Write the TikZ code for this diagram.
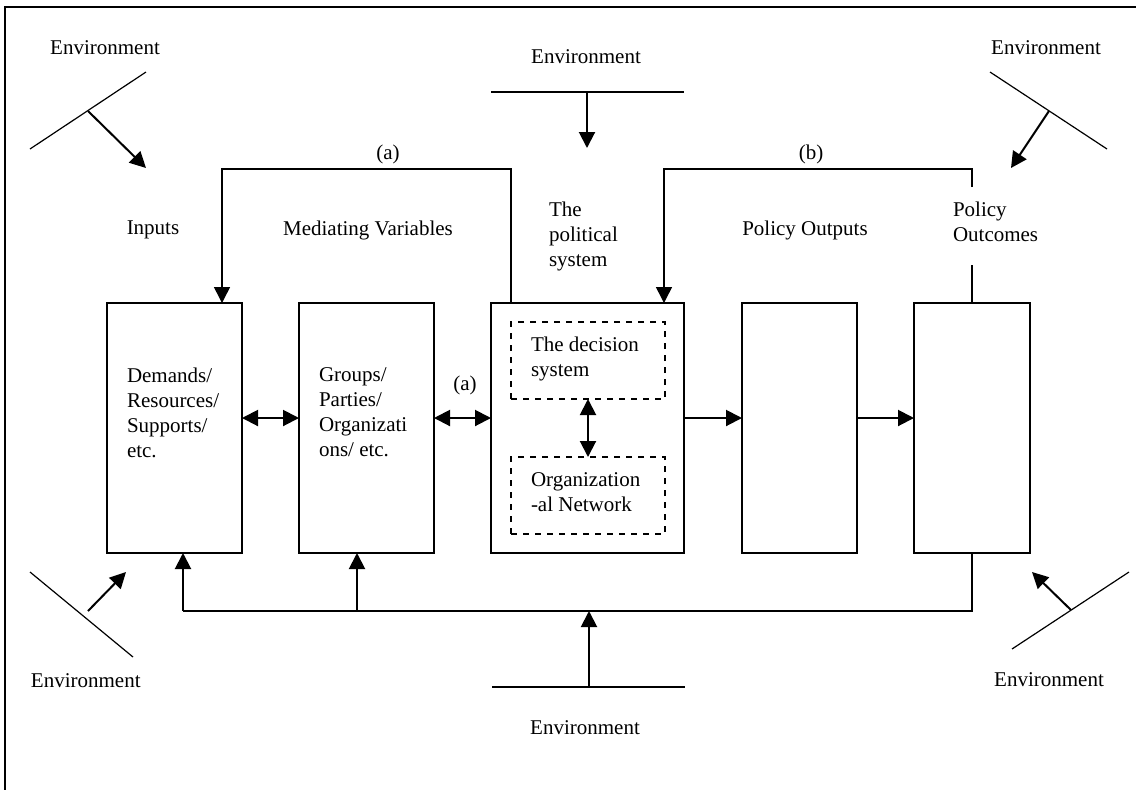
\documentclass[tikz,border=0pt]{standalone}
\usepackage{fontspec}
\setmainfont{Liberation Serif}
\usetikzlibrary{arrows.meta}
\begin{document}
\begin{tikzpicture}[x=0.5pt,y=-0.5pt,
  every node/.style={font=\fontsize{10.5}{12.5}\selectfont, inner sep=0pt, outer sep=0pt},
  lbl/.style={align=left, anchor=north west},
  box/.style={draw, line width=0.75pt, anchor=north west, minimum height=125pt},
  dbox/.style={draw, dashed, line width=0.6pt, anchor=north west, minimum width=77pt, minimum height=38.5pt},
  tip/.tip={Triangle[length=8pt,width=8pt]},
  conn/.style={line width=0.75pt},
  arr/.style={line width=1pt, -tip},
  dbl/.style={line width=1pt, tip-tip},
  envline/.style={line width=0.6pt}]
\useasboundingbox (0,0) rectangle (1136,789);
\clip (0,0) rectangle (1136,789);

% outer frame
\draw[line width=1pt] (5,800) -- (5,7) -- (1140,7);

% main boxes
\node[box, minimum width=67.5pt] (b1) at (107,303) {};
\node[box, minimum width=67.5pt] (b2) at (299,303) {};
\node[box, minimum width=96.5pt] (b3) at (491,303) {};
\node[box, minimum width=57.5pt] (b4) at (742,303) {};
\node[box, minimum width=58pt]   (b5) at (914,303) {};

% inner dashed boxes of the political system
\node[dbox] (d1) at (511,322) {};
\node[dbox] (d2) at (511,457) {};

% box texts
\node[lbl] (t1) at (127,368) {Demands/\\Resources/\\Supports/\\etc.};
\node[lbl] (t2) at (319,368) {Groups/\\Parties/\\Organizati\\ons/ etc.};
\node[lbl] (t3) at (531,337) {The decision\\system};
\node[lbl] (t4) at (531,473) {Organization\\-al Network};

% column headings
\node (hIn)  at (153,230) {Inputs};
\node (hMed) at (368,230) {Mediating Variables};
\node[lbl] (hPol) at (549,202) {The\\political\\system};
\node (hOut) at (805,230) {Policy Outputs};
\node[lbl] (hOc) at (953,202) {Policy\\Outcomes};

% arrows between boxes
\draw[dbl] ([yshift=5pt]b1.east) -- ([yshift=5pt]b2.west);
\draw[dbl] ([yshift=5pt]b2.east) -- ([yshift=5pt]b3.west);
\node (la) at (465,385) {(a)};
\draw[arr] ([yshift=5pt]b3.east) -- ([yshift=5pt]b4.west);
\draw[arr] ([yshift=5pt]b4.east) -- ([yshift=5pt]b5.west);
\draw[dbl] (d1.south) -- (d2.north);

% feedback loop (a)
\draw[conn, -tip] ([xshift=10pt]b3.north west) -- ++(0,-134) -| ([xshift=57.5pt]b1.north west);
\node (fa) at (388,154) {(a)};

% feedback loop (b)
\coordinate (bTop) at (972,187);
\draw[conn] (b5.north) -- ++(0,-38);
\draw[conn, -tip] (bTop) -- ++(0,-18) -| ([xshift=-10pt]b3.north east);
\node (fb) at (811,154) {(b)};

% bottom feedback bus
\coordinate (busR) at (972,611);
\coordinate (busM) at (357,611);
\coordinate (busL) at (183,611);
\draw[conn] (b5.south) -- (busR) -- (busL);
\draw[arr] (busL) -- (b1.south -| busL);
\draw[arr] (busM) -- (b2.south -| busM);

% environment: top left
\draw[envline] (30,149) -- (146,72);
\draw[arr] (88,111) -- (146,168);
\node (eTL) at (105,48) {Environment};

% environment: top
\draw[envline] (491,92) -- (684,92);
\draw[arr] (587,92) -- (587,148);
\node (eT) at (586,57) {Environment};

% environment: top right
\draw[envline] (990,72) -- (1107,149);
\draw[arr] (1049,111) -- (1011,168);
\node (eTR) at (1046,48) {Environment};

% environment: bottom left
\draw[envline] (30,572) -- (133,657);
\draw[arr] (88,611) -- (126,572);
\node[anchor=west] (eBL) at (31,681) {Environment};

% environment: bottom
\coordinate (busC) at (589,611);
\draw[envline] (492,687) -- (685,687);
\draw[arr] (589,687) -- (busC);
\node (eB) at (585,728) {Environment};

% environment: bottom right
\draw[envline] (1012,649) -- (1129,572);
\draw[arr] (1071,610) -- (1032,572);
\node (eBR) at (1049,680) {Environment};
\end{tikzpicture}
\end{document}
